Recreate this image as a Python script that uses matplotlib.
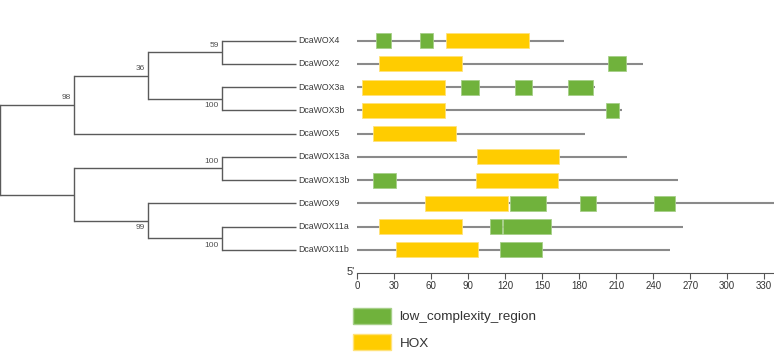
import numpy as np
import matplotlib.pyplot as plt
from matplotlib.patches import Patch

# Data
#._____________________

genes = ['DcaWOX4', 'DcaWOX2', 'DcaWOX3a', 'DcaWOX3b', 'DcaWOX5',
         'DcaWOX13a', 'DcaWOX13b', 'DcaWOX9', 'DcaWOX11a', 'DcaWOX11b']
lengths = [168, 232, 193, 215, 185, 219, 260, 340, 264, 254]
hox = [(72, 139), (18, 85), (4, 71), (4, 71), (13, 80),
       (97, 164), (96, 163), (55, 122), (18, 85), (31, 98)]
lcr = [[(15, 27), (51, 61)],
       [(203, 218)],
       [(84, 99), (128, 142), (171, 191)],
       [(202, 212)],
       [],
       [],
       [(13, 31)],
       [(124, 153), (181, 194), (241, 258)],
       [(108, 117), (118, 157)],
       [(116, 150)]]
ticks = np.arange(0, 331, 30)

# tree: (child, child, bootstrap)
upper = ((('DcaWOX4', 'DcaWOX2', 59), ('DcaWOX3a', 'DcaWOX3b', 100), 36), 'DcaWOX5', 98)
lower = (('DcaWOX13a', 'DcaWOX13b', 100), ('DcaWOX9', ('DcaWOX11a', 'DcaWOX11b', 100), 99), None)
tree = (upper, lower, None)

c_green = '#70B23C'
c_yellow = '#FFCC00'
c_line = '#8a8a8a'
c_tree = '#5a5a5a'
plt.rcParams['font.family'] = ['Liberation Sans', 'DejaVu Sans']

W, H = 774, 356
fig = plt.figure(figsize=(W / 100, H / 100), dpi=100)

ytop = -1.75
ybot = 10
ax_h = 273 / H
axt = fig.add_axes([0, 1 - ax_h, 296 / W, ax_h])
axd = fig.add_axes([357.3 / W, 1 - ax_h, 1 - 357.3 / W, ax_h])

# TREE
#._____________________
ypos = {g: i for i, g in enumerate(genes)}
LEAF = 4


def height(node):
    if isinstance(node, str):
        return 0
    return 1 + max(height(node[0]), height(node[1]))


def draw(node, side=0):
    if isinstance(node, str):
        return ypos[node]
    a, b, sup = node
    x = LEAF - height(node)
    ys = []
    for k, ch in enumerate((a, b)):
        cx = LEAF - height(ch)
        cy = draw(ch, k)
        axt.plot([x, cx], [cy, cy], color=c_tree, lw=1.0, solid_capstyle='butt', clip_on=False)
        ys.append(cy)
    axt.plot([x, x], ys, color=c_tree, lw=1.0, clip_on=False)
    y = np.mean(ys)
    if sup is not None:
        off = 5 if side == 0 else -5
        axt.annotate(str(sup), (x, y), xytext=(-2.5, off), textcoords='offset points',
                     ha='right', va='center', fontsize=6, color='#505050')
    return y


draw(tree)
for g in genes:
    axt.annotate(g, (LEAF, ypos[g]), xytext=(1.8, 0), textcoords='offset points',
                 ha='left', va='center', fontsize=6.3, color='#3a3a3a', annotation_clip=False)
axt.set_xlim(0, LEAF)
axt.set_ylim(ybot, ytop)
axt.axis('off')

# DOMAINS
#._____________________
bh = 0.645
for i, g in enumerate(genes):
    axd.hlines(i, 0, lengths[i], color=c_line, lw=1.5, zorder=1)
    axd.barh(i, hox[i][1] - hox[i][0], left=hox[i][0], height=bh, color=c_yellow,
             edgecolor='#FFE27A', linewidth=0.6, zorder=2)
    for s, e in lcr[i]:
        axd.barh(i, e - s, left=s, height=bh, color=c_green,
                 edgecolor='#A6CF88', linewidth=0.6, zorder=2)

axd.set_xlim(0, 338)
axd.set_ylim(ybot, ytop)
axd.set_yticks([])
axd.set_xticks(ticks)
axd.tick_params(axis='x', length=4, width=0.8, color='#555555', labelsize=7,
                labelcolor='#333333', pad=1.5)
for s in ['top', 'left', 'right']:
    axd.spines[s].set_visible(False)
axd.spines['bottom'].set_color('#555555')
axd.spines['bottom'].set_linewidth(0.8)
axd.patch.set_alpha(0)
axd.annotate("5'", (0, ybot), xytext=(-1.5, 1), textcoords='offset points',
             ha='right', va='center', fontsize=8, color='#333333', annotation_clip=False)

# LEGEND
#._____________________
fs = 9.7
handles = [Patch(facecolor=c_green, edgecolor='#A6CF88', label='low_complexity_region'),
           Patch(facecolor=c_yellow, edgecolor='#FFE27A', label='HOX')]
fig.legend(handles=handles, loc='upper left', bbox_to_anchor=(353.3 / W, 1 - 307.7 / H),
           bbox_transform=fig.transFigure, frameon=False, fontsize=fs,
           handlelength=38 / (fs * 100 / 72), handleheight=20 / (fs * 100 / 72),
           handletextpad=0.6, labelspacing=0.75, borderpad=0, borderaxespad=0,
           labelcolor='#333333')

fig.savefig('out.png', dpi=100)
